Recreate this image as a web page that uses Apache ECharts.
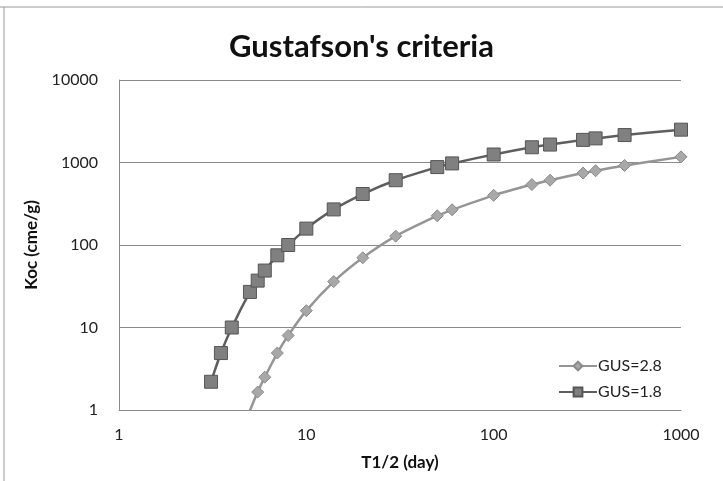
<!DOCTYPE html>
<html>
<head>
<meta charset="utf-8">
<script src="https://cdn.jsdelivr.net/npm/echarts@6/dist/echarts.min.js"></script>
<style>html,body{margin:0;padding:0;background:#fff;}#c{width:723px;height:481px;}</style>
</head>
<body>
<div id="c"></div>
<script>
// Data
var t18 = [3.1, 3.5, 4, 5, 5.5, 6, 7, 8, 10, 14, 20, 30, 50, 60, 100, 160, 200, 300, 350, 500, 1000];
var koc18 = [2.2, 4.9, 10, 27, 37, 49, 75, 100, 158, 270, 415, 610, 880, 975, 1250, 1530, 1650, 1880, 1960, 2150, 2500];
var t28 = [5, 5.5, 6, 7, 8, 10, 14, 20, 30, 50, 60, 100, 160, 200, 300, 350, 500, 1000];
var koc28 = [0.99, 1.65, 2.5, 4.9, 8, 16, 36, 70, 128, 226, 267, 400, 540, 610, 745, 795, 920, 1170];
var xTicks = [1, 10, 100, 1000];
var yTicks = [1, 10, 100, 1000, 10000];
var seriesNames = ['GUS=2.8', 'GUS=1.8'];

function pairs(xs, ys) { return xs.map(function (x, i) { return [x, ys[i]]; }); }

var FONT = 'Lato';
var chart = echarts.init(document.getElementById('c'), null, {renderer: 'canvas'});
chart.setOption({
  animation: false,
  backgroundColor: '#fff',
  title: {
    text: "Gustafson's criteria",
    left: 'center', top: 26,
    textStyle: {fontFamily: FONT, fontSize: 31, fontWeight: 'bold', color: '#111'}
  },
  grid: {left: 119, right: 42, top: 80, bottom: 71},
  legend: {
    orient: 'vertical', left: 553, top: 353, itemGap: 10,
    itemWidth: 38, itemHeight: 11,
    data: seriesNames,
    textStyle: {fontFamily: FONT, fontSize: 16, color: '#222', padding: [0, 0, 0, -4]}
  },
  xAxis: {
    type: 'log', logBase: 10, min: xTicks[0], max: xTicks[xTicks.length - 1],
    name: 'T1/2 (day)', nameLocation: 'middle', nameGap: 44,
    nameTextStyle: {fontFamily: FONT, fontSize: 17, fontWeight: 'bold', color: '#111'},
    axisLine: {show: true, lineStyle: {color: '#8a8a8a', width: 1}},
    axisTick: {show: false},
    splitLine: {show: false},
    axisLabel: {fontFamily: FONT, fontSize: 16, color: '#222', margin: 17,
      formatter: function (v) { return String(v); }}
  },
  yAxis: {
    type: 'log', logBase: 10, min: yTicks[0], max: yTicks[yTicks.length - 1],
    name: 'Koc (cme/g)', nameLocation: 'middle', nameGap: 79, nameRotate: 90,
    nameTextStyle: {fontFamily: FONT, fontSize: 17, fontWeight: 'bold', color: '#111'},
    axisLine: {show: true, lineStyle: {color: '#8a8a8a', width: 1}},
    axisTick: {show: false},
    splitLine: {show: true, lineStyle: {color: '#8a8a8a', width: 1}},
    axisLabel: {fontFamily: FONT, fontSize: 16, color: '#222', margin: 21,
      formatter: function (v) { return String(v); }}
  },
  graphic: [
    {type: 'line', shape: {x1: 0, y1: 7, x2: 723, y2: 7}, style: {stroke: '#999', lineWidth: 1}},
    {type: 'line', shape: {x1: 4, y1: 7, x2: 4, y2: 481}, style: {stroke: '#999', lineWidth: 1}}
  ],
  series: [
    {
      name: seriesNames[0], type: 'line', smooth: 0.25, clip: true,
      data: pairs(t28, koc28),
      symbol: 'diamond', symbolSize: 12,
      lineStyle: {color: '#959595', width: 2.5},
      itemStyle: {color: '#a8a8a8', borderColor: '#8a8a8a', borderWidth: 1}
    },
    {
      name: seriesNames[1], type: 'line', smooth: 0.25, clip: true,
      data: pairs(t18, koc18),
      symbol: 'rect', symbolSize: 13,
      lineStyle: {color: '#5e5e5e', width: 2.5},
      itemStyle: {color: '#808080', borderColor: '#555', borderWidth: 1}
    }
  ]
});
</script>
</body>
</html>
